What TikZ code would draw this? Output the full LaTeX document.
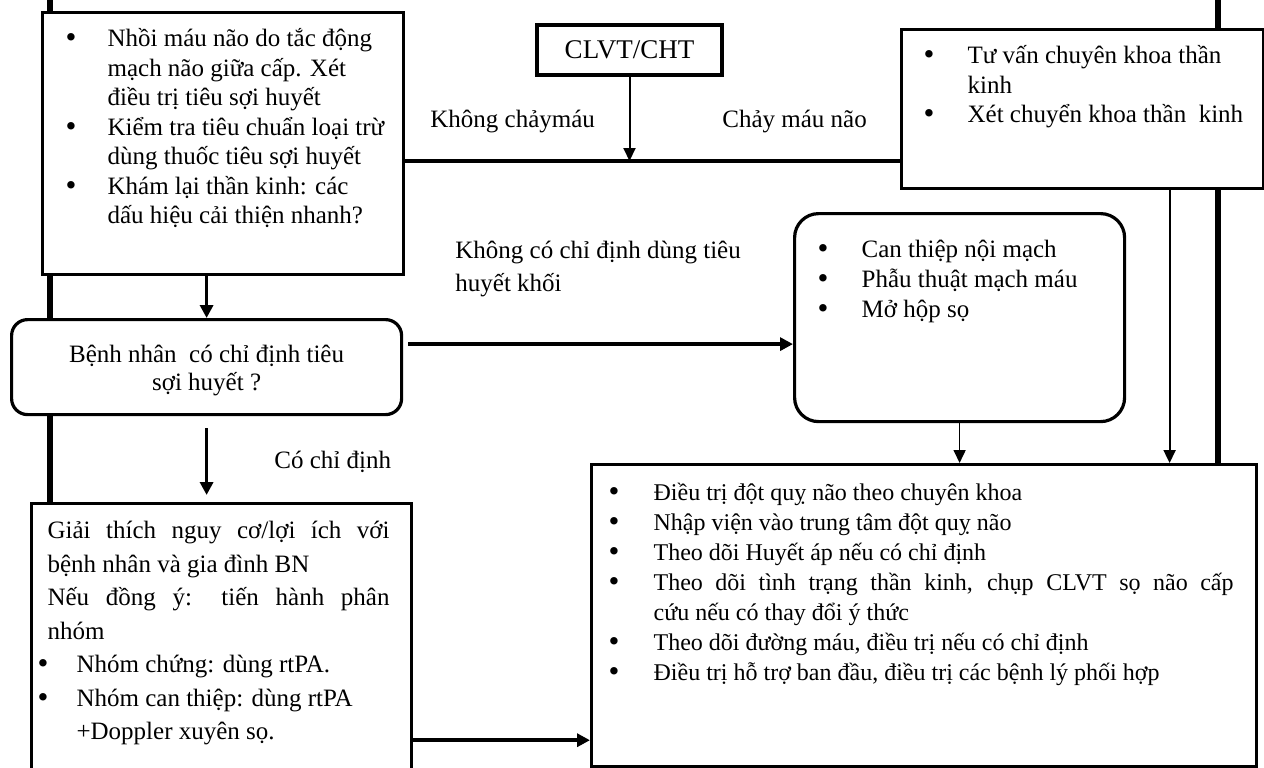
\documentclass[tikz,border=0pt]{standalone}
\usepackage{fontspec}
\setmainfont{Liberation Serif}
\usetikzlibrary{arrows.meta,backgrounds,calc}

\newcommand{\cellbox}[3]{\parbox[t][#2][t]{#1}{\hrule height 0pt width #1\relax #3}}
\newcommand{\topgap}[1]{\rule{0pt}{#1}}
\newcommand{\dotmark}{\raisebox{-0.6pt}{\fontsize{15.5}{15}\selectfont\textbullet}}
\newenvironment{bullist}[3]{%
  \begin{list}{\dotmark}{%
    \setlength{\leftmargin}{#2}\setlength{\rightmargin}{#3}%
    \setlength{\labelwidth}{#2}\setlength{\labelsep}{0pt}%
    \setlength{\itemsep}{0pt}\setlength{\parsep}{0pt}%
    \setlength{\topsep}{0pt}\setlength{\partopsep}{0pt}%
    \renewcommand{\makelabel}[1]{\hspace*{#1}##1\hfil}}}%
  {\end{list}}

\begin{document}
\begin{tikzpicture}[x=0.5pt, y=-0.5pt,
        box/.style={draw, line width=1.6pt, fill=white, inner sep=0pt, anchor=north west, font={\fontsize{12.5}{14.75}\selectfont}},
        roundBox/.style={box, rounded corners=8pt},
        scanBox/.style={draw, line width=2.2pt, fill=white, inner sep=0pt, minimum width=92.5pt, minimum height=25pt, font={\fontsize{13.5}{16}\selectfont}},
        flow/.style={-{Triangle[length=6.5pt,width=6.5pt]}, line width=1.8pt},
        thinFlow/.style={-{Triangle[length=6.5pt,width=6pt]}, line width=0.8pt},
        frameLine/.style={line width=3pt},
        split/.style={line width=2.2pt},
        note/.style={font={\fontsize{12.5}{16.5}\selectfont}, inner sep=0pt, align=left}
      ]
      \useasboundingbox (0,0) rectangle (1264,767);
      \clip (0,0) rectangle (1264,767);

      \coordinate (frameL) at (50,0);
      \coordinate (frameR) at (1218,0);
      \coordinate (join) at (629.5,161);

      \node[box] (check) at (41,11) {\cellbox{180.5pt}{131pt}{%
        \begin{bullist}{11.5pt}{32.5pt}{0pt}
        \item \topgap{17pt}Nhồi máu não do tắc động\newline mạch não giữa cấp. Xét\newline điều trị tiêu sợi huyết
        \item Kiểm tra tiêu chuẩn loại trừ\newline dùng thuốc tiêu sợi huyết
        \item Khám lại thần kinh: các\newline dấu hiệu cải thiện nhanh?
        \end{bullist}}};
      \node[scanBox] (scan) at (629.5,50) {CLVT/CHT};
      \node[box] (bleed) at (900,28) {\cellbox{181pt}{79.5pt}{%
        \begin{bullist}{11pt}{33pt}{0pt}
        \item \topgap{17pt}Tư vấn chuyên khoa thần\newline kinh
        \item Xét chuyển khoa thần\ \ kinh
        \end{bullist}}};
      \node[roundBox] (decide) at (10,318) {\cellbox{195pt}{47.5pt}{\centering\baselineskip=14pt
        \topgap{21.5pt}Bệnh nhân\ \ có chỉ định tiêu\\sợi huyết ?}};
      \node[roundBox, rounded corners=12pt, font={\fontsize{12.5}{15}\selectfont}] (can) at (793,212) {\cellbox{165pt}{104pt}{%
        \begin{bullist}{11.5pt}{33.5pt}{0pt}
        \item \topgap{22pt}Can thiệp nội mạch
        \item Phẫu thuật mạch máu
        \item Mở hộp sọ
        \end{bullist}}};
      \node[box, font={\fontsize{12.5}{16.75}\selectfont}] (consent) at (30,502) {\cellbox{190pt}{140pt}{%
        \leftskip=8pt \rightskip=11pt
        \topgap{17.5pt}Giải thích nguy cơ/lợi ích với\linebreak bệnh nhân và gia đình BN\\ Nếu đồng ý: tiến hành phân\linebreak nhóm\par
        \leftskip=0pt \rightskip=0pt
        \begin{bullist}{3pt}{22.5pt}{0pt}
        \item Nhóm chứng: dùng rtPA.
        \item Nhóm can thiệp: dùng rtPA\newline +Doppler xuyên sọ.
        \end{bullist}}};
      \node[box, font={\fontsize{12}{15}\selectfont}] (treat) at (590,463) {\cellbox{332.5pt}{151pt}{%
        \begin{bullist}{8.5pt}{31pt}{11.5pt}
        \item \topgap{18pt}Điều trị đột quỵ não theo chuyên khoa
        \item Nhập viện vào trung tâm đột quỵ não
        \item Theo dõi Huyết áp nếu có chỉ định
        \item Theo dõi tình trạng thần kinh, chụp CLVT sọ não cấp\linebreak cứu nếu có thay đổi ý thức
        \item Theo dõi đường máu, điều trị nếu có chỉ định
        \item Điều trị hỗ trợ ban đầu, điều trị các bệnh lý phối hợp
        \end{bullist}}};

      \node[note, anchor=base west] (noBleed) at (430,127) {Không chảymáu};
      \node[note, anchor=base west] (yesBleed) at (722,127) {Chảy máu não};
      \node[note, anchor=north west] (noUse) at (455,241) {Không có chỉ định dùng tiêu\\huyết khối};

      \begin{scope}[on background layer]
        \draw[frameLine] (frameL) -- (frameL |- consent.north);
        \draw[frameLine] (frameR) -- (frameR |- treat.north);
      \end{scope}

      \coordinate (bleedOut) at ($(bleed.south)+(87,0)$);
      \coordinate (decideOut) at ($(decide.east)+(5,-23)$);
      \coordinate (yesOut) at ($(decide.south)+(0,12)$);
      \coordinate (consentOut) at ($(consent.east |- treat.south)+(0,-28)$);

      \draw[split] (check.east |- join) -- (bleed.west |- join);
      \draw[thinFlow, line width=1pt] (scan.south) -- (join);
      \draw[flow] (check.south -| decide.north) -- (decide.north);
      \draw[flow] (decideOut) -- (decideOut -| can.west);
      \draw[flow] (yesOut) -- ($(yesOut |- consent.north)+(0,-7)$) node[note, midway, right=33pt] (yesUse) {Có chỉ định};
      \draw[thinFlow] (can.south) -- (can.south |- treat.north);
      \draw[thinFlow, line width=1.1pt] (bleedOut) -- (bleedOut |- treat.north);
      \draw[flow] (consentOut) -- (consentOut -| treat.west);
    \end{tikzpicture}
\end{document}
